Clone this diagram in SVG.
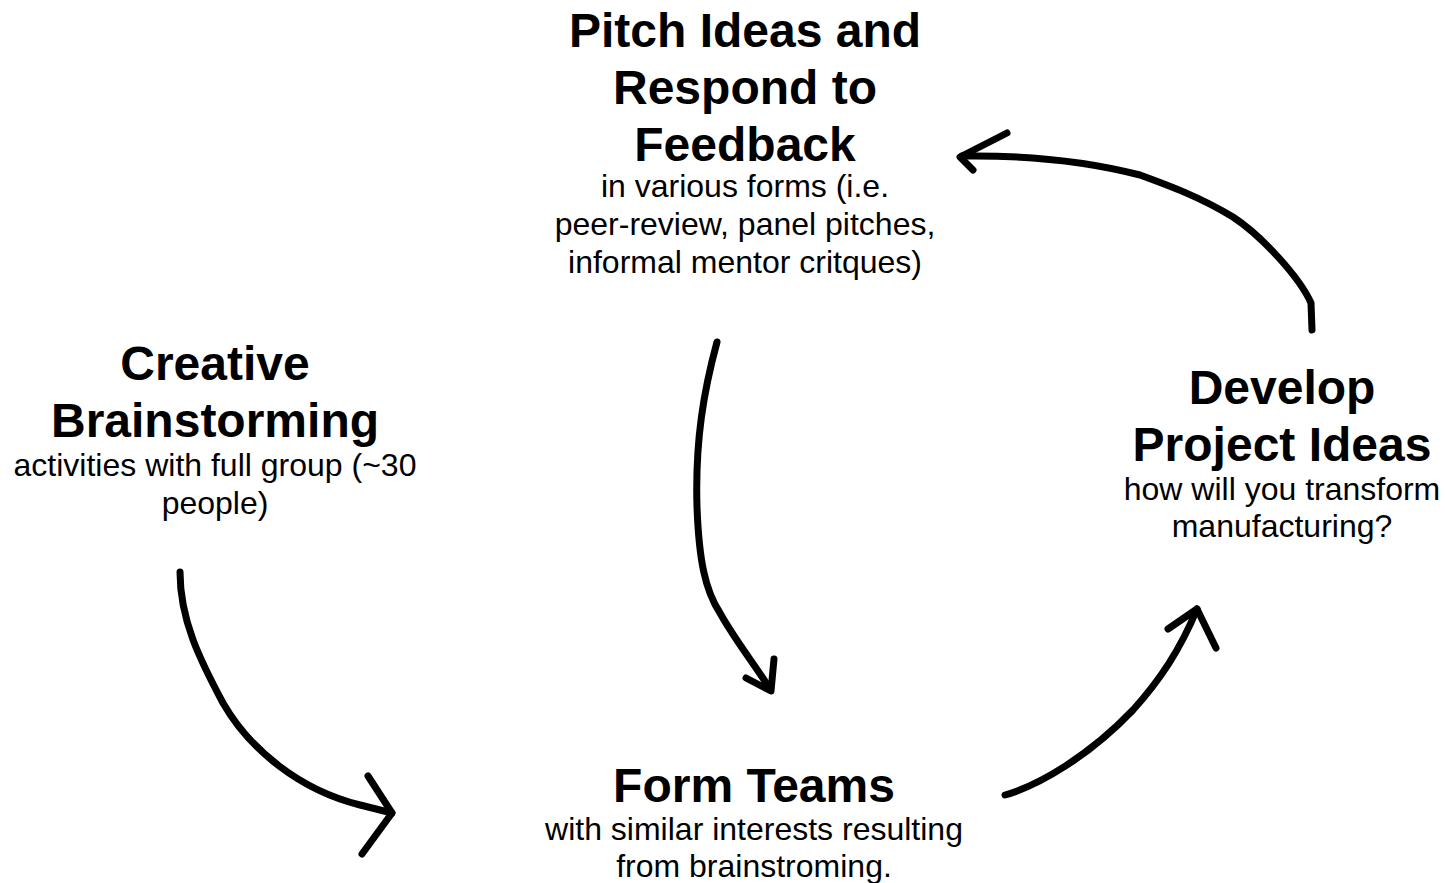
<svg xmlns="http://www.w3.org/2000/svg" width="1445" height="883" viewBox="0 0 1445 883">
<style>
.t{font-family:"Liberation Sans",Arial,sans-serif;font-weight:bold;font-size:48px;fill:#000;text-anchor:middle}
.s{font-family:"Liberation Sans",Arial,sans-serif;font-size:32px;fill:#000;text-anchor:middle}
.c{fill:none;stroke:#000;stroke-width:7;stroke-linecap:round;stroke-linejoin:round}
</style>
<rect width="1445" height="883" fill="#fff"/>
<g id="pitch">
<text class="t" x="745" y="47">Pitch Ideas and</text>
<text class="t" x="745" y="104">Respond to</text>
<text class="t" x="745" y="161">Feedback</text>
<text class="s" x="745" y="197">in various forms (i.e.</text>
<text class="s" x="745" y="235">peer-review, panel pitches,</text>
<text class="s" x="745" y="273">informal mentor critques)</text>
</g>
<g id="creative">
<text class="t" x="215" y="380">Creative</text>
<text class="t" x="215" y="437">Brainstorming</text>
<text class="s" x="215" y="476">activities with full group (~30</text>
<text class="s" x="215" y="514">people)</text>
</g>
<g id="develop">
<text class="t" x="1282" y="404">Develop</text>
<text class="t" x="1282" y="461">Project Ideas</text>
<text class="s" x="1282" y="500">how will you transform</text>
<text class="s" x="1282" y="537">manufacturing?</text>
</g>
<g id="form">
<text class="t" x="754" y="802">Form Teams</text>
<text class="s" x="754" y="840">with similar interests resulting</text>
<text class="s" x="754" y="877">from brainstroming.</text>
</g>
<g id="connectors">
<path class="c" d="M1312,330 L1311,303 C1300,278 1262,236 1233,217 C1200,197 1170,186 1140,175 C1090,162 1030,155 962,156"/>
<path class="c" d="M1007,133 L960,157 L973,170"/>
<path class="c" d="M717,342 C704,390 695,440 697,507 C699,560 705,590 720,613 C735,640 755,665 770,689"/>
<path class="c" d="M774,659 L771,691 L746,678"/>
<path class="c" d="M180,572 C180,620 200,660 223,703 C250,750 300,790 360,805 C375,809 385,811 392,813"/>
<path class="c" d="M368,776 L392,813 L362,854"/>
<path class="c" d="M1005,795 C1040,785 1090,755 1133,710 C1160,680 1180,650 1197,609"/>
<path class="c" d="M1168,629 L1197,609 L1216,648"/>
</g>
</svg>
